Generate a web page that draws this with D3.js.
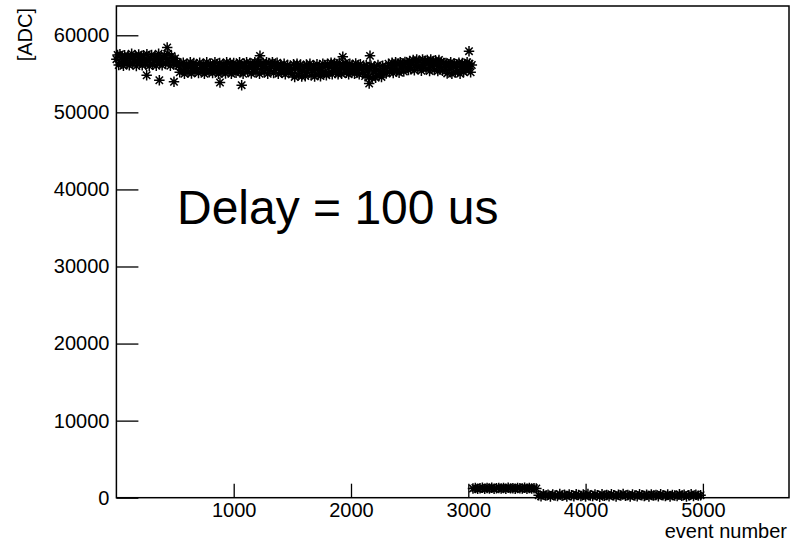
<!DOCTYPE html>
<html>
<head>
<meta charset="utf-8">
<script src="https://cdn.jsdelivr.net/npm/d3@7"></script>
<style>
  html, body { margin: 0; padding: 0; background: #fff; }
  svg { display: block; font-family: "Liberation Sans", Arial, Helvetica, sans-serif; }
</style>
</head>
<body>
<svg id="chart" width="797" height="542"></svg>
<script>
// ADC readout per event; one reading every `runStep` events inside each run.
const runStep = 10;
const mainRunStart = 0;
const mainRunAdc = [
  56900, 57450, 56150, 57550, 56500, 57100, 56050, 57400, 56700, 56300,
  57300, 56100, 56950, 57600, 56350, 56850, 57350, 56000, 56750, 57500,
  56450, 57150, 56100, 57400, 56900, 56250, 57550, 56650, 56000, 57050,
  57450, 56200, 56800, 57250, 56050, 57000, 57600, 56400, 56950, 56100,
  57100, 57400, 56300, 56800, 57600, 56550, 56050, 57300, 56700, 56250,
  57000, 56200, 56500, 56050, 55200, 56300, 55450, 56450, 55000, 55900,
  56250, 55200, 55950, 56500, 55050, 55700, 56400, 55300, 56100, 55550,
  55100, 56450, 55800, 55350, 56250, 55000, 55950, 56500, 55500, 55200,
  56300, 55650, 55100, 56100, 56500, 55300, 55850, 55000, 56400, 55600,
  55200, 56250, 55950, 55050, 56500, 55700, 55400, 56400, 55000, 55950,
  56400, 55500, 55150, 56150, 55800, 56500, 55250, 56000, 55000, 56300,
  55650, 56500, 55300, 55850, 56400, 55050, 56100, 55550, 56500, 55200,
  55950, 56500, 55000, 56250, 55650, 56450, 55250, 55900, 56500, 55000,
  56400, 55450, 55950, 56500, 55100, 56200, 55700, 56450, 55000, 55850,
  56150, 55150, 55750, 56300, 54950, 55600, 56150, 55100, 55900, 55450,
  55000, 56250, 54600, 55800, 56300, 54800, 55500, 56200, 54650, 55350,
  55950, 54700, 56200, 55200, 55700, 56300, 54800, 55450, 56050, 54650,
  55550, 56250, 54900, 55850, 54700, 55400, 56300, 55100, 55950, 54800,
  56300, 55150, 55900, 56450, 54950, 55700, 56400, 55300, 56000, 54950,
  56450, 55500, 55000, 56150, 55800, 56400, 55150, 55950, 54950, 56300,
  55300, 56100, 55700, 55000, 56350, 55450, 55950, 54950, 56250, 55600,
  55100, 55900, 54700, 56100, 55350, 54550, 55750, 56050, 54500, 55250,
  55950, 54500, 55500, 56150, 54800, 55300, 54600, 56050, 55100, 55700,
  55050, 55850, 56300, 55250, 55650, 56450, 55100, 56050, 56500, 55350,
  56200, 55150, 56500, 55750, 56300, 55300, 56550, 55850, 56400, 55500,
  56650, 55600, 56250, 56800, 55450, 56550, 56850, 55800, 56700, 56050,
  55400, 56850, 56150, 56650, 55650, 56800, 56350, 55350, 56850, 56000,
  56550, 55500, 56750, 56200, 55350, 56800, 55900, 56550, 55400, 56400,
  55900, 56400, 55050, 56200, 55600, 56500, 55000, 55950, 56350, 55200,
  56200, 55350, 56450, 55000, 55850, 56400, 55250, 56050, 55550, 56500,
  55700, 56300, 55200, 56150
];

const pedestalStep = 20;
const pedestalRunAStart = 3040;
const pedestalRunAAdc = [
  1180, 1260, 1150, 1230, 1290, 1170, 1250, 1200, 1300, 1160,
  1220, 1270, 1190, 1250, 1150, 1280, 1210, 1240, 1160, 1270,
  1220, 1180, 1290, 1170, 1250, 1200, 1240, 1190
];
const pedestalRunBStart = 3600;
const pedestalRunBAdc = [
  330, 180, 460, 270, 390, 150, 420, 300, 210, 480,
  260, 370, 140, 430, 310, 190, 450, 340, 230, 400,
  160, 470, 290, 220, 410, 330, 130, 440, 260, 360,
  200, 460, 310, 170, 390, 280, 470, 240, 350, 150,
  420, 300, 200, 450, 330, 220, 380, 160, 430, 280,
  360, 190, 460, 310, 230, 400, 170, 350, 290, 210,
  440, 260, 380, 150, 330, 450, 220, 370, 270, 320
];

// isolated readings away from the main band
const strayEvents = [258, 366, 433, 491, 883, 1068, 1224, 1930, 2155, 2162, 3006];
const strayAdc    = [54820, 54170, 58420, 53960, 53880, 53530, 57330, 57200, 53750, 57330, 57940];

const xMajorTicks = [1000, 2000, 3000, 4000, 5000];
const yMajorTicks = [0, 10000, 20000, 30000, 40000, 50000, 60000];
const xMinorStep = 200;
const yMinorStep = 2000;

const xDomain = [0, 5734];
const yDomain = [0, 63800];

const xTitle = "event number";
const yTitle = "[ADC]";
const note = "Delay = 100 us";

// ---------------------------------------------------------------
const svg = d3.select("#chart");
const W = 797, H = 542;
const frame = { left: 116.4, right: 789, top: 6, bottom: 497.7 };
const labelFont = 20;

svg.append("rect").attr("width", W).attr("height", H).attr("fill", "#fff");

const x = d3.scaleLinear().domain(xDomain).range([frame.left, frame.right]);
const y = d3.scaleLinear().domain(yDomain).range([frame.bottom, frame.top]);

// assemble points
function runPoints(start, step, values) {
  return values.map((v, i) => ({ ev: start + i * step, adc: v }));
}
const points = [].concat(
  runPoints(mainRunStart, runStep, mainRunAdc),
  runPoints(pedestalRunAStart, pedestalStep, pedestalRunAAdc),
  runPoints(pedestalRunBStart, pedestalStep, pedestalRunBAdc),
  strayEvents.map((e, i) => ({ ev: e, adc: strayAdc[i] }))
);

// asterisk marker (horizontal, vertical and both diagonals)
const asterisk = {
  draw(context, size) {
    const r = Math.sqrt(size) / 2;
    const d = r * Math.SQRT1_2;
    context.moveTo(-r, 0); context.lineTo(r, 0);
    context.moveTo(0, -r); context.lineTo(0, r);
    context.moveTo(-d, -d); context.lineTo(d, d);
    context.moveTo(-d, d); context.lineTo(d, -d);
  }
};
const markerPath = d3.symbol().type(asterisk).size(110)();

svg.append("g")
  .selectAll("path")
  .data(points)
  .join("path")
  .attr("d", markerPath)
  .attr("transform", d => `translate(${x(d.ev)},${y(d.adc)})`)
  .attr("fill", "none")
  .attr("stroke", "#000")
  .attr("stroke-width", 1.5);

// frame
svg.append("rect")
  .attr("x", frame.left).attr("y", frame.top)
  .attr("width", frame.right - frame.left)
  .attr("height", frame.bottom - frame.top)
  .attr("fill", "none").attr("stroke", "#000").attr("stroke-width", 1.5);

// x axis: inward ticks, labels below
const xMinor = d3.range(xMinorStep, xDomain[1], xMinorStep).filter(v => !xMajorTicks.includes(v));
const xAxisMajor = d3.axisBottom(x).tickValues(xMajorTicks).tickSize(-14).tickPadding(5).tickFormat(d3.format("d"));
const xAxisMinor = d3.axisBottom(x).tickValues(xMinor).tickSize(-7).tickFormat("");

const gx = svg.append("g").attr("transform", `translate(0,${frame.bottom})`);
gx.call(xAxisMinor);
gx.call(xAxisMajor);
gx.selectAll(".domain").remove();
gx.selectAll("line").attr("stroke", "#000").attr("stroke-width", 1.3);
gx.selectAll("text")
  .attr("font-size", labelFont).attr("fill", "#000")
  .attr("font-family", "Liberation Sans, Arial, sans-serif");

// y axis: inward ticks, labels to the left
const yMinor = d3.range(yMinorStep, yDomain[1], yMinorStep).filter(v => !yMajorTicks.includes(v));
const yAxisMajor = d3.axisLeft(y).tickValues(yMajorTicks).tickSize(-22).tickPadding(7).tickFormat(d3.format("d"));
const yAxisMinor = d3.axisLeft(y).tickValues(yMinor).tickSize(-11).tickFormat("");

const gy = svg.append("g").attr("transform", `translate(${frame.left},0)`);
gy.call(yAxisMinor);
gy.call(yAxisMajor);
gy.selectAll(".domain").remove();
gy.selectAll("line").attr("stroke", "#000").attr("stroke-width", 1.3);
gy.selectAll("text")
  .attr("font-size", labelFont).attr("fill", "#000")
  .attr("font-family", "Liberation Sans, Arial, sans-serif");

// axis titles
svg.append("text")
  .attr("x", 787).attr("y", 538)
  .attr("text-anchor", "end")
  .attr("font-size", labelFont)
  .text(xTitle);

svg.append("text")
  .attr("transform", "translate(32,8) rotate(-90)")
  .attr("text-anchor", "end")
  .attr("font-size", labelFont)
  .text(yTitle);

// annotation
svg.append("text")
  .attr("x", 177).attr("y", 224)
  .attr("font-size", 48)
  .text(note);
</script>
</body>
</html>
